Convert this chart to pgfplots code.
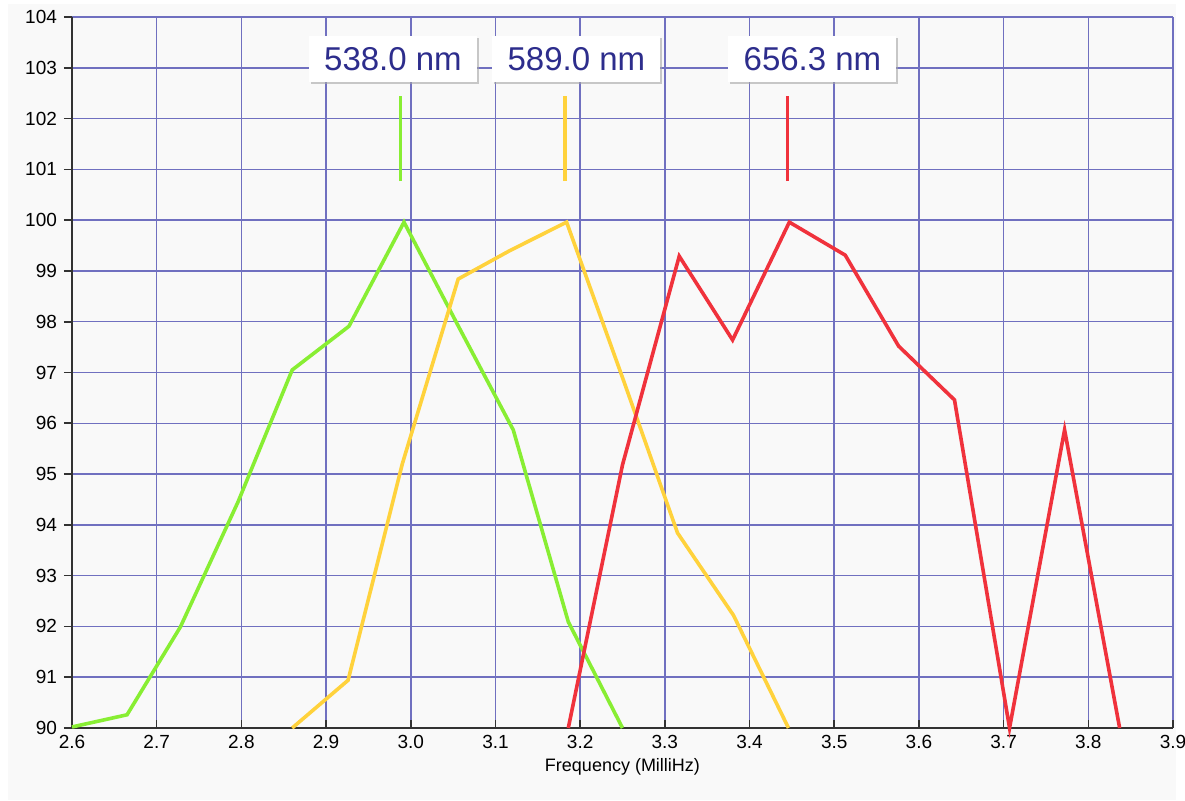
\documentclass[border=0pt]{standalone}
\usepackage{fontspec}
\setmainfont{Liberation Sans}
\usepackage{pgfplots}
\pgfplotsset{compat=1.18}
\usetikzlibrary{shadows}
\definecolor{bggrey}{RGB}{249,249,249}
\definecolor{gridblue}{RGB}{112,112,192}
\definecolor{cgreen}{RGB}{136,238,51}
\definecolor{cyellow}{RGB}{255,210,60}
\definecolor{cred}{RGB}{240,50,60}
\definecolor{labblue}{RGB}{45,45,140}
\definecolor{axisdark}{RGB}{50,50,50}
\begin{document}
\begin{tikzpicture}
\useasboundingbox (-36pt,-36.5pt) rectangle (556.5pt,364pt);
\fill[white] (-36pt,-36.5pt) rectangle (556.5pt,364pt);
\fill[bggrey] (-32pt,-36pt) rectangle (552pt,362pt);
\begin{axis}[
  scale only axis, width=550.5pt, height=355.5pt,
  xmin=2.6, xmax=3.9, ymin=90, ymax=104,
  xtick={2.6,2.7,2.8,2.9,3.0,3.1,3.2,3.3,3.4,3.5,3.6,3.7,3.8,3.9},
  ytick={90,91,92,93,94,95,96,97,98,99,100,101,102,103,104},
  grid=major, grid style={gridblue, line width=0.75pt},
  axis x line*=bottom, axis y line*=left,
  axis line style={axisdark, line width=1.1pt, -},
  xtick align=inside, ytick align=outside,
  major tick length=4pt,
  tick style={axisdark, line width=0.8pt},
  /pgf/number format/assume math mode=true,
  tick label style={font=\fontsize{9.5}{11}\selectfont, text=black},
  xticklabel style={/pgf/number format/.cd, fixed, fixed zerofill, precision=1},
  yticklabel style={/pgf/number format/.cd, fixed, precision=0},
  xlabel={Frequency (MilliHz)},
  xlabel style={font=\fontsize{9}{11}\selectfont, yshift=2pt},
  clip=false,
]
% green series
\addplot[cgreen, line width=1.8pt] coordinates {
 (2.600,90.02) (2.665,90.26) (2.728,91.99) (2.796,94.45) (2.860,97.05)
 (2.927,97.91) (2.992,99.96) (3.055,97.95) (3.121,95.87) (3.186,92.09) (3.250,90.0)};
% yellow series
\addplot[cyellow, line width=1.8pt] coordinates {
 (2.860,90.0) (2.926,90.94) (2.990,95.2) (3.056,98.84) (3.117,99.4)
 (3.184,99.96) (3.250,96.9) (3.315,93.84) (3.381,92.22) (3.446,90.0)};
% red series
\addplot[cred, line width=1.8pt] coordinates {
 (3.186,90.0) (3.250,95.18) (3.317,99.29) (3.380,97.64) (3.447,99.96)
 (3.513,99.31) (3.576,97.52) (3.642,96.46) (3.707,90.0) (3.772,95.87) (3.837,90.0)};
% markers
\addplot[cgreen, line width=1.6pt] coordinates {(2.988,100.77) (2.988,102.44)};
\addplot[cyellow, line width=1.6pt] coordinates {(3.182,100.77) (3.182,102.44)};
\addplot[cred, line width=1.6pt] coordinates {(3.445,100.77) (3.445,102.44)};
\tikzset{lab/.style={fill=white, text=labblue, font=\fontsize{16.5}{18}\selectfont,
  minimum width=84pt, minimum height=23pt, inner sep=2pt,
  drop shadow={shadow xshift=1pt, shadow yshift=-1pt, fill=black!35, opacity=0.6}}}
\node[lab] at (axis cs:2.979,103.17) {538.0 nm};
\node[lab] at (axis cs:3.1956,103.17) {589.0 nm};
\node[lab] at (axis cs:3.4743,103.17) {656.3 nm};
\end{axis}
\end{tikzpicture}
\end{document}
